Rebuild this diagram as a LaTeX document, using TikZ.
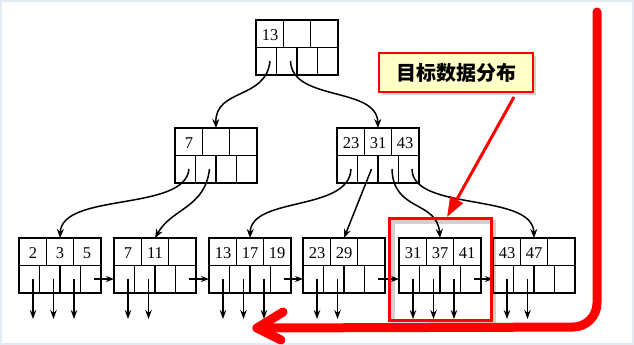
\documentclass[tikz,border=0pt]{standalone}
\usepackage{fontspec}
\setmainfont{Liberation Serif}
\newfontfamily\cjk{Noto Sans CJK SC}
\usetikzlibrary{arrows.meta,calc,shadows}
\definecolor{framec}{RGB}{228,234,243}
\definecolor{calloutfill}{RGB}{255,255,200}
\newcommand\bpnode[6]{% name, x, y, k1, k2, k3
  \node[bpbox, anchor=north west] (#1) at (#2,#3) {};
  \draw[cellline] (#2,#3+27.5) -- (#2+82,#3+27.5);
  \draw[cellline] (#2+27.33,#3) -- (#2+27.33,#3+27.5);
  \draw[cellline] (#2+54.67,#3) -- (#2+54.67,#3+27.5);
  \draw[cellline] (#2+20.5,#3+27.5) -- (#2+20.5,#3+55);
  \draw[cellline] (#2+41,#3+27.5) -- (#2+41,#3+55);
  \draw[cellline] (#2+61.5,#3+27.5) -- (#2+61.5,#3+55);
  \node[key] (#1-k1) at (#2+14,#3+15) {#4};
  \node[key] (#1-k2) at (#2+41,#3+15) {#5};
  \node[key] (#1-k3) at (#2+68,#3+15) {#6};
  \coordinate (#1-p1) at (#2+14,#3+41);
  \coordinate (#1-p2) at (#2+34.5,#3+41);
  \coordinate (#1-p3) at (#2+55,#3+41);
  \coordinate (#1-p4) at (#2+75,#3+41);
}
\begin{document}
\begin{tikzpicture}[x=1pt,y=-1pt,
  bpbox/.style={draw, line width=1.8pt, minimum width=82pt, minimum height=55pt, inner sep=0pt, outer sep=0pt},
  cellline/.style={line width=1.5pt},
  key/.style={font=\fontsize{16.5}{18}\selectfont, inner sep=0pt},
  tree/.style={line width=1.5pt, -{Stealth[length=9pt,width=7pt]}},
  down/.style={line width=1.5pt, -{Stealth[length=9pt,width=6.5pt]}},
  link/.style={line width=1.5pt, -{Stealth[length=8pt,width=6pt]}},
  bigred/.style={draw=red, line width=9pt, line cap=round, line join=round},
  hlbox/.style={draw=red, line width=3pt, minimum width=102pt, minimum height=102pt, inner sep=0pt},
  callout/.style={draw=red, line width=2.5pt, fill=calloutfill, minimum width=154pt, minimum height=39pt,
    font=\cjk\fontsize{20}{22}\selectfont\bfseries,
    drop shadow={shadow xshift=3pt, shadow yshift=-3pt, opacity=0.35}},
  redarrow/.style={draw=red, line width=3pt, -{Triangle[length=20pt,width=14pt]}}
]
\useasboundingbox (0,0) rectangle (634,345);
\draw[framec, line width=2pt] (1,1) rectangle (633,344);

% tree nodes
\bpnode{root}{256}{20}{13}{}{}
\bpnode{ml}{175}{128}{7}{}{}
\bpnode{mr}{337}{128}{23}{31}{43}
\bpnode{la}{19}{238}{2}{3}{5}
\bpnode{lb}{114}{238}{7}{11}{}
\bpnode{lc}{209}{238}{13}{17}{19}
\bpnode{ld}{303}{238}{23}{29}{}
\bpnode{le}{399}{238}{31}{37}{41}
\bpnode{lf}{493}{238}{43}{47}{}

% tree connectors
\draw[tree] (root-p1) .. controls (266,100) and (215,88) .. (ml.north);
\draw[tree] (root-p2) .. controls (292,102) and (377,86) .. (mr.north);
\draw[tree] (ml-p1) .. controls (185,212) and (62,192) .. (la.north);
\draw[tree] (ml-p2) .. controls (205,208) and (172,208) .. (lb.north);
\draw[tree] (mr-p1) .. controls (349,212) and (251,196) .. (lc.north);
\draw[tree] (mr-p2) -- (ld.north);
\draw[tree] (mr-p3) .. controls (393,212) and (437,200) .. (le.north);
\draw[tree] (mr-p4) .. controls (412,212) and (533,192) .. (lf.north);

% leaf links
\draw[link] (la-p4) -- (la-p4 -| lb.west);
\draw[link] (lb-p4) -- (lb-p4 -| lc.west);
\draw[link] (lc-p4) -- (lc-p4 -| ld.west);
\draw[link] (ld-p4) -- (ld-p4 -| le.west);
\draw[link] (le-p4) -- (le-p4 -| lf.west);

% data pointers
\foreach \n/\k in {la/3,lb/2,lc/3,ld/2,le/3,lf/2}{
  \foreach \i in {1,...,\k}{
    \coordinate (\n-d\i) at ($(\n-p\i)+(0,40)$);
    \draw[down] (\n-p\i) -- (\n-d\i);
  }
}

% highlight box with shadow
\draw[black, opacity=0.18, line width=4pt] (393,222) rectangle (494,323);
\node[hlbox] (hl) at (440,269) {};

% callout
\node[callout] (lbl) at (456,72.5) {目标数据分布};
\coordinate (callA) at (514,97);
\coordinate (callB) at (447,217);
\draw[redarrow] (callA) -- (callB);

% big red arrow
\coordinate (bigtop) at (597,12);
\coordinate (bigcorner) at (597,327);
\coordinate (bigtip) at (257,328);
\draw[bigred, rounded corners=24pt] (bigtop) -- (bigcorner) -- (bigtip);
\draw[bigred] ($(bigtip)+(26,-16)$) -- (bigtip) -- ($(bigtip)+(24,12)$);
\end{tikzpicture}
\end{document}
